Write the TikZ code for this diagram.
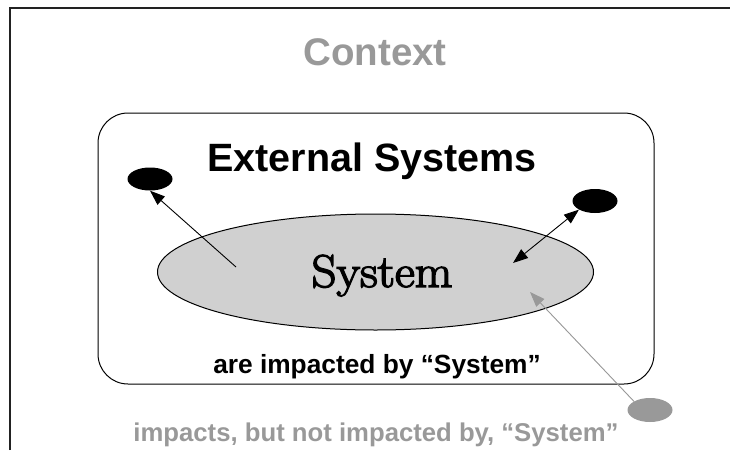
\documentclass[tikz,border=0pt]{standalone}
\usepackage{fontspec}
\newfontfamily\arialf{Liberation Sans}
\newfontfamily\sysfont{Latin Modern Roman}[FakeBold=3]
\usetikzlibrary{arrows.meta,shapes.geometric}
\definecolor{lgray}{HTML}{999999}
\definecolor{efill}{HTML}{D0D0D0}
\definecolor{frame}{HTML}{222222}
\tikzset{
  blob/.style={ellipse, fill=black, minimum width=45pt, minimum height=23pt, inner sep=0pt},
  grayblob/.style={ellipse, fill=lgray, minimum width=45pt, minimum height=24pt, inner sep=0pt},
  conn/.style={line width=0.9pt, -{Triangle[length=15pt,width=11pt]}},
}
\begin{document}
\begin{tikzpicture}[x=1pt,y=-1pt]
\useasboundingbox (0,0) rectangle (730,450);
% frame
\draw[frame, line width=1.6pt] (10,450) -- (10,8) -- (730,8);
% context box
\draw[line width=1pt, rounded corners=30pt] (98,113) rectangle (654,384);
% system ellipse
\node[ellipse, draw, line width=1pt, fill=efill, minimum width=436pt, minimum height=116pt, inner sep=0pt] (sys) at (375.5,272) {};
\node[anchor=base, xscale=1.06, inner sep=0pt, font=\sysfont\fontsize{46}{48}\selectfont] (systext) at (382,287) {System};
% titles
\node[anchor=base, text=lgray, inner sep=0pt, font=\arialf\bfseries\fontsize{38.5}{40}\selectfont] (ctx) at (375,65) {Context};
\node[anchor=base, inner sep=0pt, font=\arialf\bfseries\fontsize{39.5}{41}\selectfont] (ext) at (372,171) {External Systems};
\node[anchor=base, inner sep=0pt, font=\arialf\bfseries\fontsize{26.3}{28}\selectfont] (are) at (377,373) {are impacted by “System”};
\node[anchor=base, inner sep=0pt, text=lgray, font=\arialf\bfseries\fontsize{25.7}{27}\selectfont] (imp) at (376,441) {impacts, but not impacted by, “System”};
% external blobs
\node[blob] (b1) at (150,179) {};
\node[blob, minimum height=24pt] (b2) at (595,201) {};
\node[grayblob] (g1) at (650,410) {};
% connectors
\coordinate (s1) at (236,267);
\coordinate (s2) at (513,263);
\coordinate (s3) at (530,292);
\draw[conn] (s1) -- (b1.south);
\draw[conn, {Triangle[length=15pt,width=11pt]}-{Triangle[length=15pt,width=11pt]}] (s2) -- (b2.south west);
\draw[conn, draw=lgray, fill=lgray] (g1.north west) -- (s3);
\end{tikzpicture}
\end{document}
